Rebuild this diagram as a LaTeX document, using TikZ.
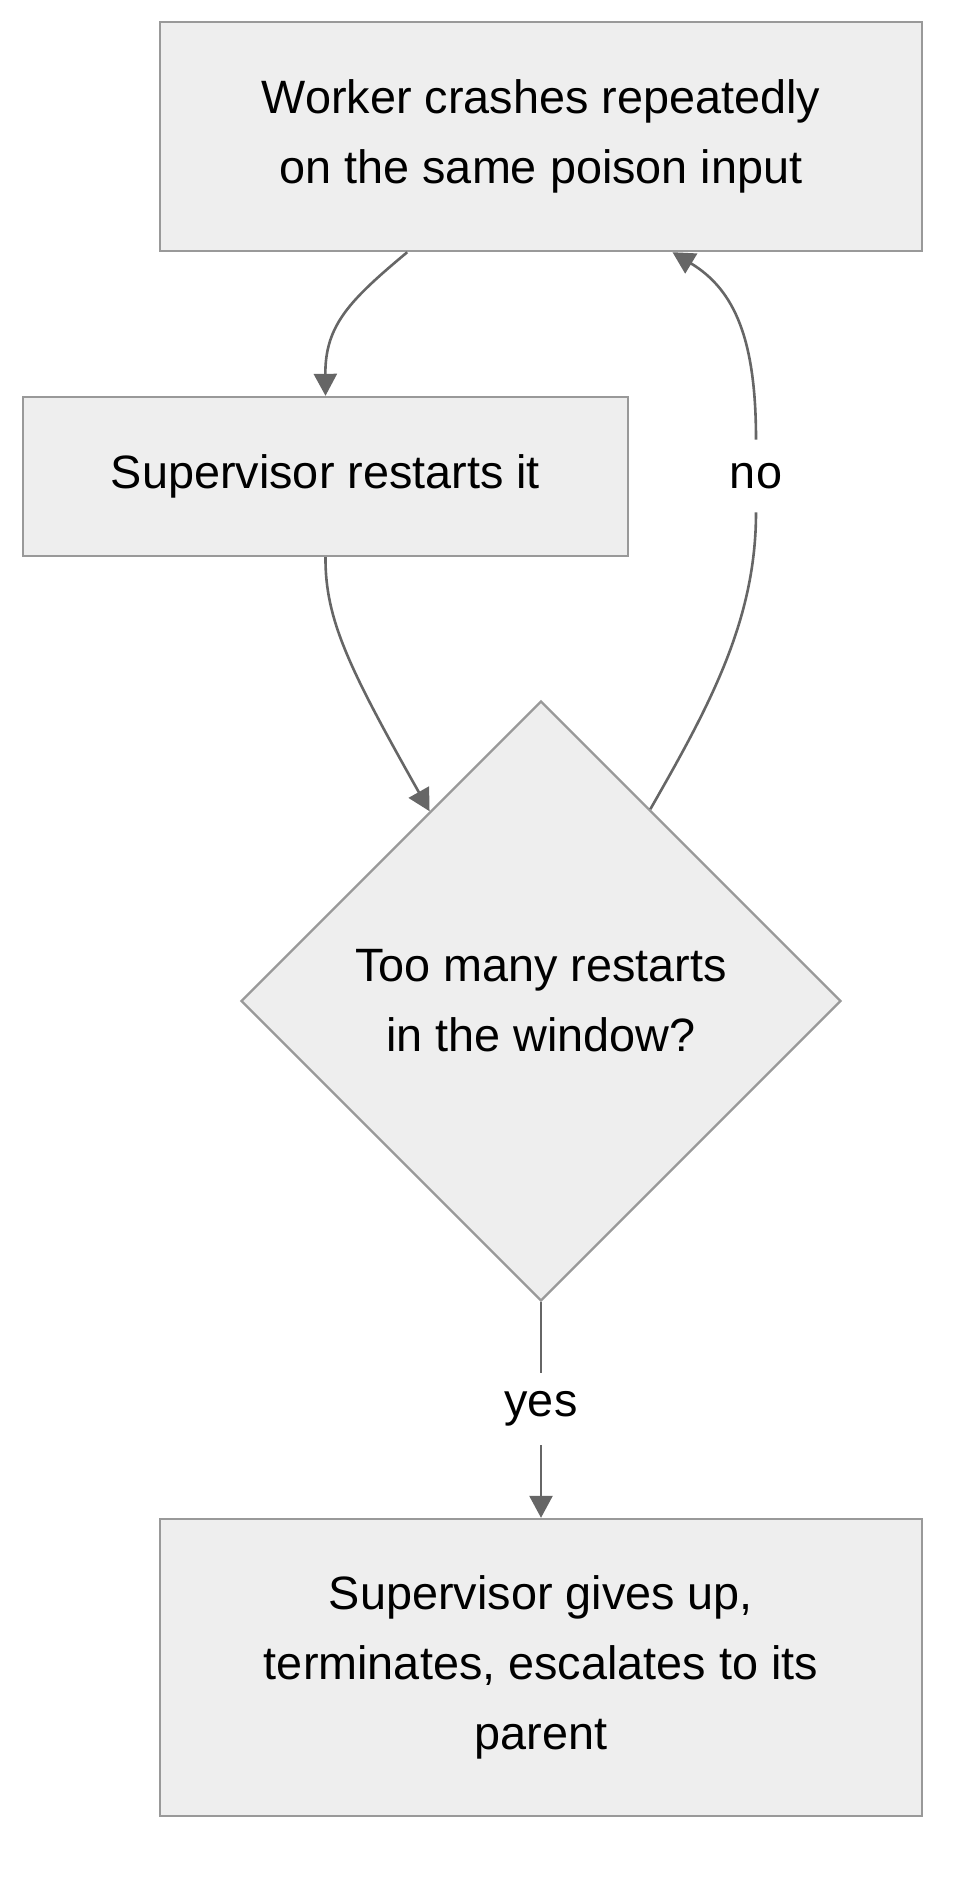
\documentclass[tikz,border=0pt]{standalone}
\usepackage{fontspec}
\setmainfont{Liberation Sans}
\usetikzlibrary{calc,arrows.meta,shapes.geometric}

\definecolor{boxfill}{HTML}{EEEEEE}
\definecolor{boxline}{HTML}{999999}
\definecolor{linkgray}{HTML}{666666}

\begin{document}
\begin{tikzpicture}[x=0.5pt,y=-0.5pt,
    every node/.style={font=\fontsize{23.4}{35}\selectfont},
    stepbox/.style={draw=boxline,fill=boxfill,line width=1.2pt,
        inner sep=0pt,align=center},
    choice/.style={diamond,aspect=1,draw=boxline,fill=boxfill,line width=1.2pt,
        inner sep=0pt,minimum width=300pt,minimum height=300pt,align=center},
    link/.style={draw=linkgray,line width=1.3pt},
    tip/.style={-{Triangle[length=11pt,width=11.5pt]},linkgray},
    lbl/.style={inner sep=0pt,minimum height=36pt}]

% Fix the page to the reference size.
\useasboundingbox (0,0) rectangle (969,1890);

% Boxes of the flow.
\node[stepbox,minimum width=381pt,minimum height=114.5pt]
    (worker) at (541,136.5) {Worker crashes repeatedly\\on the same poison input};
\node[stepbox,minimum width=302.5pt,minimum height=79.5pt]
    (restart) at (325.5,476.5) {Supervisor restarts it};
\node[choice]
    (toomany) at (541,1001) {Too many restarts\\in the window?};
\node[stepbox,minimum width=381pt,minimum height=148.5pt]
    (giveup) at (541,1667.5) {Supervisor gives up,\\terminates, escalates to its\\parent};

% Edge labels.
\node[lbl] (no) at (756,476) {no};
\node[lbl] (yes) at (541,1409) {yes};

% Crash goes to restart.
\draw[link,tip]
    % leave a third of the way along the lower side
    ($(worker.south west)!0.325!(worker.south east)$)
    .. controls (350,300) and (325,325) .. (restart.north);

% Restart goes to the check.
\draw[link,tip]
    (restart.south)
    .. controls (325,620) and (350,670)
    .. ($(toomany.north)!0.37!(toomany.west)$);

% Not too many: back to the worker.
\draw[link]
    ($(toomany.north)!0.363!(toomany.east)$)
    .. controls (710,705) and (756,620) .. (no.south);
\draw[link,tip]
    (no.north)
    .. controls (756,340) and (735,290)
    .. ($(worker.south west)!0.672!(worker.south east)$);

% Too many: give up.
\draw[link] (toomany.south) -- (yes.north);
\draw[link,tip] (yes.south) -- (giveup.north);

\end{tikzpicture}
\end{document}
